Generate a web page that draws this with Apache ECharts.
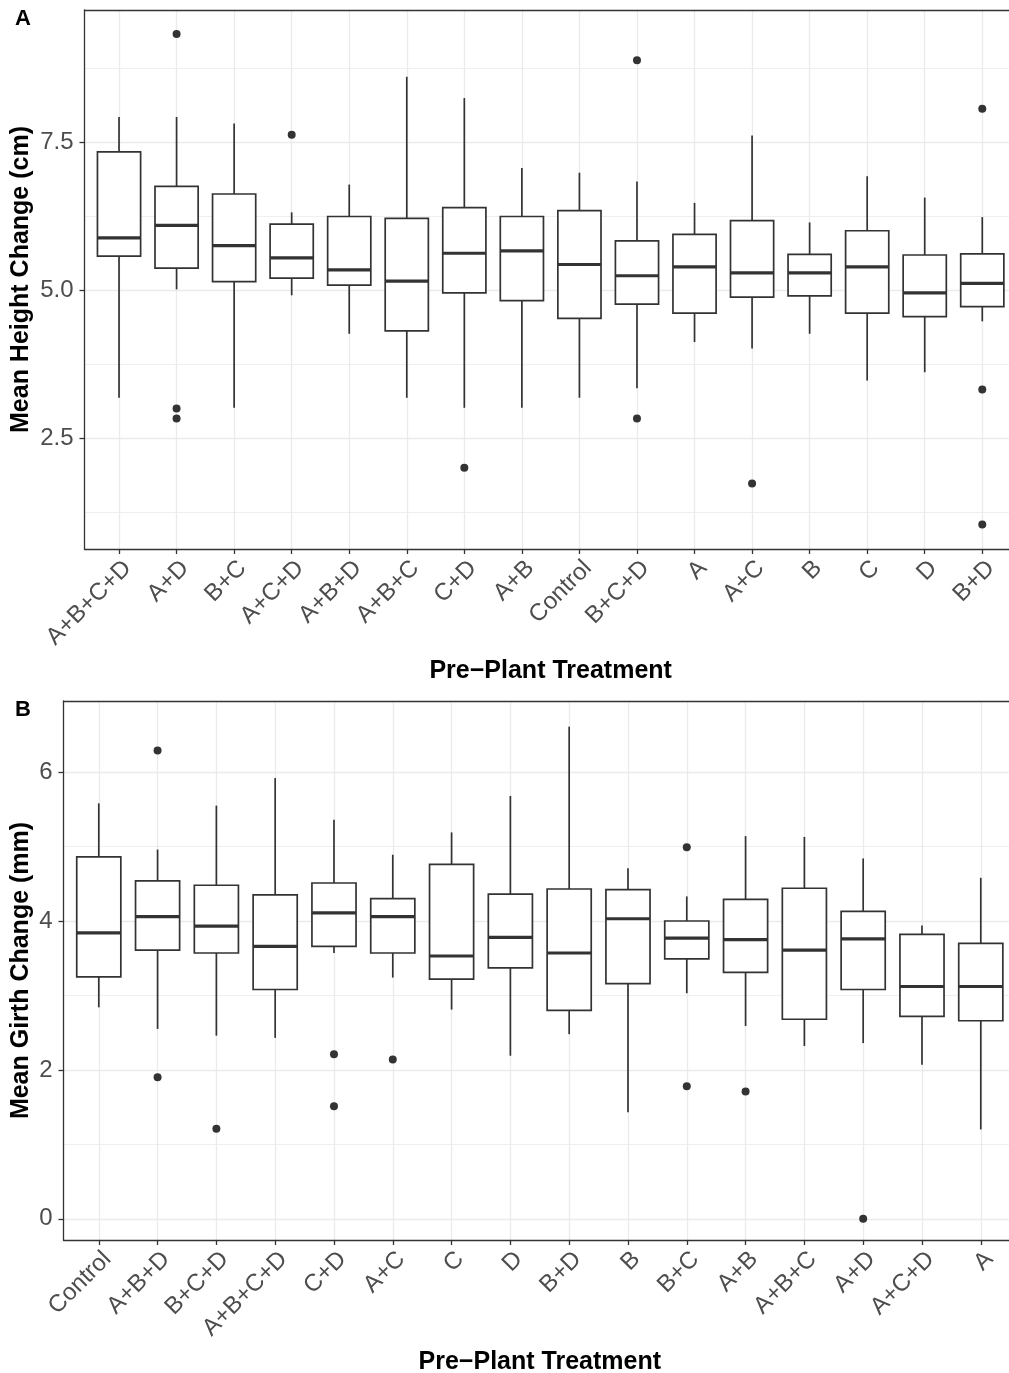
<!DOCTYPE html>
<html>
<head>
<meta charset="utf-8">
<script src="https://cdn.jsdelivr.net/npm/echarts@6/dist/echarts.min.js"></script>
<style>
html, body { margin: 0; padding: 0; background: #ffffff; }
#chart { width: 1009px; height: 1373px; }
</style>
</head>
<body>
<div id="chart"></div>
<script>
// ---------- Panel A: Mean Height Change (cm) ----------
const heightCats = ['A+B+C+D','A+D','B+C','A+C+D','A+B+D','A+B+C','C+D','A+B','Control','B+C+D','A','A+C','B','C','D','B+D'];
const heightMin = [3.19, 5.02, 3.02, 4.92, 4.27, 3.19, 3.02, 3.02, 3.19, 3.35, 4.13, 4.02, 4.27, 3.48, 3.62, 4.48];
const heightQ1  = [5.58, 5.38, 5.15, 5.21, 5.09, 4.32, 4.96, 4.83, 4.53, 4.77, 4.62, 4.89, 4.91, 4.62, 4.56, 4.73];
const heightMed = [5.89, 6.10, 5.76, 5.55, 5.35, 5.16, 5.63, 5.67, 5.44, 5.25, 5.40, 5.30, 5.30, 5.40, 4.96, 5.12];
const heightQ3  = [7.34, 6.76, 6.63, 6.12, 6.25, 6.22, 6.40, 6.25, 6.35, 5.84, 5.95, 6.18, 5.61, 6.01, 5.60, 5.62];
const heightMax = [7.93, 7.93, 7.82, 6.32, 6.79, 8.61, 8.25, 7.07, 6.99, 6.84, 6.48, 7.62, 6.15, 6.93, 6.57, 6.24];
const heightOutCat = ['A+D','A+D','A+D','A+C+D','C+D','B+C+D','B+C+D','A+C','B+D','B+D','B+D'];
const heightOutVal = [9.33, 3.01, 2.84, 7.63, 2.01, 8.89, 2.84, 1.74, 8.07, 3.33, 1.05];
const heightAxisMin = 0.636, heightAxisMax = 9.737, heightTickStep = 2.5, heightMinorStep = 1.25;

// ---------- Panel B: Mean Girth Change (mm) ----------
const girthCats = ['Control','A+B+D','B+C+D','A+B+C+D','C+D','A+C','C','D','B+D','B','B+C','A+B','A+B+C','A+D','A+C+D','A'];
const girthMin = [2.84, 2.55, 2.46, 2.43, 3.57, 3.24, 2.81, 2.19, 2.48, 1.43, 3.03, 2.59, 2.32, 2.36, 2.07, 1.20];
const girthQ1  = [3.25, 3.61, 3.57, 3.08, 3.66, 3.57, 3.22, 3.37, 2.80, 3.16, 3.49, 3.31, 2.68, 3.08, 2.72, 2.66];
const girthMed = [3.84, 4.06, 3.93, 3.66, 4.11, 4.06, 3.53, 3.78, 3.57, 4.03, 3.77, 3.75, 3.61, 3.76, 3.12, 3.12];
const girthQ3  = [4.86, 4.54, 4.48, 4.35, 4.51, 4.30, 4.76, 4.36, 4.43, 4.42, 4.00, 4.29, 4.44, 4.13, 3.82, 3.70];
const girthMax = [5.58, 4.96, 5.55, 5.92, 5.36, 4.89, 5.19, 5.68, 6.61, 4.71, 4.33, 5.14, 5.13, 4.84, 3.94, 4.58];
const girthOutCat = ['A+B+D','A+B+D','B+C+D','C+D','C+D','A+C','B+C','B+C','A+B','A+D'];
const girthOutVal = [6.29, 1.90, 1.21, 2.21, 1.51, 2.14, 4.99, 1.78, 1.71, 0.00];
const girthAxisMin = -0.285, girthAxisMax = 6.955, girthTickStep = 2, girthMinorStep = 1;

const panelLabels = ['A', 'B'];
const xTitle = 'Pre\u2212Plant Treatment';
const yTitles = ['Mean Height Change (cm)', 'Mean Girth Change (mm)'];

// ---------- styling ----------
const FONT = 'Liberation Sans, Arial, sans-serif';
const INK = '#333333';
const LABEL = '#4d4d4d';
const GRIDC = '#ebebeb';

function boxRows(mins, q1s, meds, q3s, maxs) {
  return mins.map((m, i) => [i, m, q1s[i], meds[i], q3s[i], maxs[i]]);
}
function outRows(cats, vals) {
  return cats.map((c, i) => [c, vals[i]]);
}

function renderBox(params, api) {
  const x = api.value(0);
  const pMin = api.coord([x, api.value(1)]);
  const pQ1 = api.coord([x, api.value(2)]);
  const pMed = api.coord([x, api.value(3)]);
  const pQ3 = api.coord([x, api.value(4)]);
  const pMax = api.coord([x, api.value(5)]);
  const bw = api.size([1, 0])[0] * 0.75;
  const cx = pMed[0];
  const ls = { stroke: INK, lineWidth: 1.7, fill: null };
  return {
    type: 'group',
    children: [
      { type: 'line', shape: { x1: cx, y1: pMax[1], x2: cx, y2: pQ3[1] }, style: ls },
      { type: 'line', shape: { x1: cx, y1: pQ1[1], x2: cx, y2: pMin[1] }, style: ls },
      { type: 'rect', shape: { x: cx - bw / 2, y: pQ3[1], width: bw, height: pQ1[1] - pQ3[1] },
        style: { fill: '#ffffff', stroke: INK, lineWidth: 1.7 } },
      { type: 'line', shape: { x1: cx - bw / 2, y1: pMed[1], x2: cx + bw / 2, y2: pMed[1] },
        style: { stroke: INK, lineWidth: 3.2 } }
    ]
  };
}

// panel geometry (ggplot discrete axis: 0.6 band padding on each side)
const panels = [
  { frameLeft: 84.5, top: 10, height: 539, step: 57.55, cats: heightCats,
    min: heightAxisMin, max: heightAxisMax, tick: heightTickStep, minor: heightMinorStep,
    fmt: v => v.toFixed(1), nameGapY: 51,
    boxes: boxRows(heightMin, heightQ1, heightMed, heightQ3, heightMax),
    outs: outRows(heightOutCat, heightOutVal) },
  { frameLeft: 63.5, top: 701, height: 539, step: 58.8, cats: girthCats,
    min: girthAxisMin, max: girthAxisMax, tick: girthTickStep, minor: girthMinorStep,
    fmt: v => String(Math.round(v)), nameGapY: 30,
    boxes: boxRows(girthMin, girthQ1, girthMed, girthQ3, girthMax),
    outs: outRows(girthOutCat, girthOutVal) }
];

const W = 1009;
const frameLine = { show: true, onZero: false, lineStyle: { color: INK, width: 1.3 } };
const grid = [], xAxis = [], yAxis = [], series = [], title = [];
panels.forEach((p, k) => {
  const fg = grid.length;
  const frameW = 16.2 * p.step;
  grid.push({ left: p.frameLeft, top: p.top, right: W - (p.frameLeft + frameW), height: p.height,
    containLabel: false, outerBoundsMode: 'none' });
  const dg = grid.length;
  const dataLeft = p.frameLeft + 0.6 * p.step;
  grid.push({ left: dataLeft, top: p.top, right: W - (dataLeft + 15 * p.step), height: p.height,
    containLabel: false, outerBoundsMode: 'none' });

  // frame: bottom and top edges
  xAxis.push({ gridIndex: fg, type: 'value', min: 0, max: 1, position: 'bottom',
    axisLine: frameLine, axisTick: { show: false }, axisLabel: { show: false }, splitLine: { show: false } });
  xAxis.push({ gridIndex: fg, type: 'value', min: 0, max: 1, position: 'top',
    axisLine: frameLine, axisTick: { show: false }, axisLabel: { show: false }, splitLine: { show: false } });
  const dx = xAxis.length;
  xAxis.push({
    gridIndex: dg, type: 'category', data: p.cats, boundaryGap: false, position: 'bottom',
    axisLine: { show: false, onZero: false },
    axisTick: { show: true, interval: 0, length: 5, lineStyle: { color: INK, width: 1.3 } },
    axisLabel: { interval: 0, rotate: 45, align: 'right', verticalAlign: 'top',
      color: LABEL, fontSize: 24, fontFamily: FONT, margin: 7 },
    splitLine: { show: true, interval: 0, lineStyle: { color: GRIDC, width: 1.3 } },
    name: xTitle, nameLocation: 'middle', nameGap: 110, nameMoveOverlap: false,
    nameTextStyle: { color: '#000', fontSize: 25, fontWeight: 'bold', fontFamily: FONT }
  });

  yAxis.push({
    gridIndex: fg, type: 'value', min: p.min, max: p.max,
    minInterval: p.tick, maxInterval: p.tick, splitNumber: 4,
    axisLine: frameLine,
    axisTick: { show: true, length: 5, lineStyle: { color: INK, width: 1.3 } },
    axisLabel: { color: LABEL, fontSize: 24, fontFamily: FONT, margin: 11, formatter: p.fmt,
      showMinLabel: false, showMaxLabel: false },
    splitLine: { show: true, showMinLine: false, showMaxLine: false, lineStyle: { color: GRIDC, width: 1.3 } },
    name: yTitles[k], nameLocation: 'middle', nameGap: p.nameGapY, nameMoveOverlap: false,
    nameTextStyle: { color: '#000', fontSize: 25, fontWeight: 'bold', fontFamily: FONT }
  });
  yAxis.push({
    gridIndex: fg, type: 'value', min: p.min, max: p.max,
    minInterval: p.minor, maxInterval: p.minor, splitNumber: 8,
    axisLine: { show: false, onZero: false }, axisTick: { show: false }, axisLabel: { show: false },
    splitLine: { show: true, showMinLine: false, showMaxLine: false, lineStyle: { color: GRIDC, width: 0.8 } }
  });
  const dy = yAxis.length;
  yAxis.push({ gridIndex: dg, type: 'value', min: p.min, max: p.max, show: false, splitLine: { show: false } });

  series.push({
    type: 'custom', xAxisIndex: dx, yAxisIndex: dy, data: p.boxes,
    encode: { x: 0, y: [1, 2, 3, 4, 5] }, renderItem: renderBox, z: 3, clip: false
  });
  series.push({
    type: 'scatter', xAxisIndex: dx, yAxisIndex: dy, data: p.outs,
    symbol: 'circle', symbolSize: 8, itemStyle: { color: INK, opacity: 1 }, z: 4
  });

  title.push({ text: panelLabels[k], left: 10, top: p.top - 7,
    textStyle: { color: '#000', fontSize: 22, fontWeight: 'bold', fontFamily: FONT } });
});

const chart = echarts.init(document.getElementById('chart'), null, { renderer: 'canvas' });
chart.setOption({
  animation: false,
  backgroundColor: '#ffffff',
  title, grid, xAxis, yAxis, series
});
</script>
</body>
</html>
